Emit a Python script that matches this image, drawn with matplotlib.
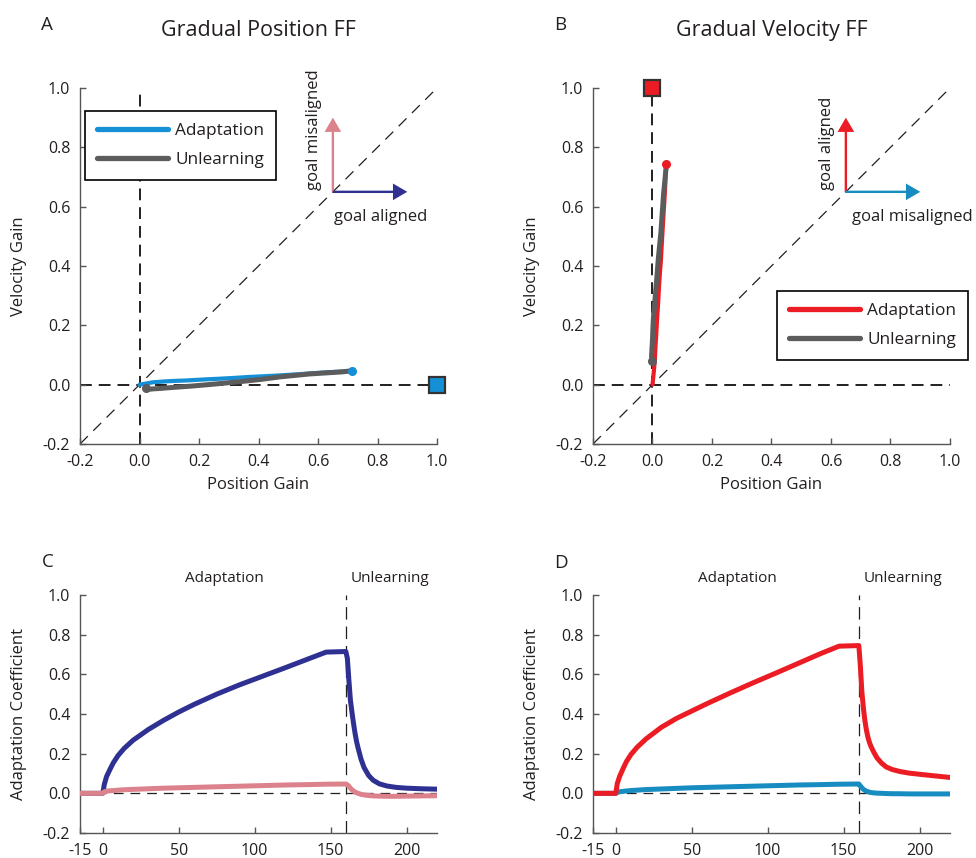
import numpy as np
import matplotlib
matplotlib.use("Agg")
import matplotlib.pyplot as plt

plt.rcParams['font.family'] = ['Open Sans', 'DejaVu Sans']
plt.rcParams['axes.unicode_minus'] = False
plt.rcParams['lines.scale_dashes'] = False

# ---- data -----------------------------------------------------------------
trial = np.array([-15, 0, 1, 2.5, 5, 7, 10, 14, 20, 30, 40, 50, 60, 75, 90,
                  105, 120, 135, 147, 160, 161, 162, 163, 164, 165, 166, 167,
                  168, 170, 172, 175, 178, 182, 187, 193, 200, 210, 220])

# gradual position force field: position / velocity adaptation coefficients
posff_position = np.array([0, 0, 0.045, 0.085, 0.125, 0.155, 0.19, 0.226, 0.268,
                           0.322, 0.368, 0.41, 0.448, 0.50, 0.547, 0.590, 0.633,
                           0.677, 0.712, 0.715, 0.68, 0.57, 0.47, 0.41, 0.355,
                           0.305, 0.263, 0.23, 0.172, 0.13, 0.09, 0.066, 0.048,
                           0.037, 0.030, 0.026, 0.023, 0.021])
posff_velocity = np.array([0, 0, 0.008, 0.011, 0.013, 0.014, 0.016, 0.018, 0.020,
                           0.023, 0.026, 0.028, 0.030, 0.033, 0.036, 0.039, 0.042,
                           0.044, 0.046, 0.047, 0.043, 0.036, 0.026, 0.018, 0.012,
                           0.007, 0.003, 0.000, -0.005, -0.008, -0.011, -0.013,
                           -0.014, -0.015, -0.015, -0.014, -0.013, -0.012])

# gradual velocity force field
velff_position = np.array([0, 0, 0.005, 0.008, 0.010, 0.012, 0.014, 0.016, 0.019,
                           0.022, 0.025, 0.028, 0.030, 0.033, 0.036, 0.039, 0.042,
                           0.044, 0.046, 0.047, 0.037, 0.028, 0.020, 0.015, 0.011,
                           0.008, 0.006, 0.004, 0.002, 0.001, 0.000, -0.001, -0.002,
                           -0.002, -0.003, -0.003, -0.003, -0.003])
velff_velocity = np.array([0, 0, 0.05, 0.085, 0.128, 0.16, 0.196, 0.232, 0.275,
                           0.333, 0.378, 0.415, 0.452, 0.505, 0.556, 0.605, 0.655,
                           0.705, 0.742, 0.745, 0.64, 0.51, 0.43, 0.365, 0.318,
                           0.282, 0.256, 0.236, 0.205, 0.178, 0.152, 0.133, 0.12,
                           0.11, 0.102, 0.096, 0.088, 0.080])

# ideal (fully adapted) gains
target_posff = [1.0, 0.0]
target_velff = [0.0, 1.0]

unlearning_start = 160

gain_ticks = [-0.2, 0.0, 0.2, 0.4, 0.6, 0.8, 1.0]
gain_labels = ['-0.2', '0.0', '0.2', '0.4', '0.6', '0.8', '1.0']
trial_ticks = [-15, 0, 50, 100, 150, 200]
trial_labels = ['-15', '0', '50', '100', '150', '200']

# ---- style ----------------------------------------------------------------
TXT = '#231f20'
SPINE = '#555555'
NAVY = '#2e3192'
PINK = '#dc828c'
SKY = '#1590d6'
TEAL = '#178cc0'
RED = '#ec1c24'
GREY = '#5c5c5c'

fig = plt.figure(figsize=(9.76, 8.58), dpi=100)

AX_W = 0.36578
LEFT_COL = 0.08197
RIGHT_COL = 0.60758
axA = fig.add_axes([LEFT_COL, 0.48252, AX_W, 0.41492])
axB = fig.add_axes([RIGHT_COL, 0.48252, AX_W, 0.41492])
axC = fig.add_axes([LEFT_COL, 0.02914, AX_W, 0.27739])
axD = fig.add_axes([RIGHT_COL, 0.02914, AX_W, 0.27739])


def style(ax):
    for s in ('top', 'right'):
        ax.spines[s].set_visible(False)
    for s in ('left', 'bottom'):
        ax.spines[s].set_color(SPINE)
        ax.spines[s].set_linewidth(1.0)
    ax.tick_params(direction='in', length=4, width=1, color=SPINE,
                   labelcolor=TXT, labelsize=11.5, pad=7)


def gain_panel(ax, pos, vel, adapt_color, target, legend_anchor,
               up_color, right_color, up_text, right_text, right_text_x):
    style(ax)
    ax.set_xlim(-0.2, 1.0)
    ax.set_ylim(-0.2, 1.0)
    ax.set_xticks(gain_ticks, gain_labels)
    ax.set_yticks(gain_ticks, gain_labels)

    ax.axhline(0, color=TXT, lw=1.4, dashes=(8.5, 5), zorder=1)
    ax.axvline(0, color=TXT, lw=1.4, dashes=(8.5, 5), zorder=1)
    ax.axline((0, 0), slope=1, color=TXT, lw=0.9, dashes=(8, 5.5), zorder=1)

    adapt = (trial >= 0) & (trial <= unlearning_start)
    unlearn = trial >= unlearning_start
    ax.plot(pos[adapt], vel[adapt], color=adapt_color, lw=3.0,
            solid_capstyle='round', solid_joinstyle='round',
            label='Adaptation', zorder=3)
    ax.plot(pos[unlearn], vel[unlearn], color=GREY, lw=3.6,
            solid_capstyle='round', solid_joinstyle='round',
            label='Unlearning', zorder=4)
    ax.plot(pos[adapt][-1], vel[adapt][-1], 'o', ms=5.5, color=adapt_color,
            zorder=5)
    ax.plot(pos[unlearn][-1], vel[unlearn][-1], 'o', ms=5.5, color=GREY,
            zorder=5)
    ax.plot(target[0], target[1], 's', ms=11.5, mfc=adapt_color, mec='#333333',
            mew=1.6, clip_on=False, zorder=6)

    # direction key
    ax.arrow(0.65, 0.65, 0, 0.25, width=0.008, head_width=0.056,
             head_length=0.048, length_includes_head=True, color=up_color,
             lw=0, zorder=2)
    ax.arrow(0.65, 0.65, 0.25, 0, width=0.008, head_width=0.056,
             head_length=0.048, length_includes_head=True, color=right_color,
             lw=0, zorder=2)
    ax.text(0.585, 0.656, up_text, rotation=90, ha='center', va='bottom',
            fontsize=12, color=TXT)
    ax.text(right_text_x, 0.591, right_text, ha='center', va='top',
            fontsize=12, color=TXT, clip_on=False)

    leg = ax.legend(loc='upper left', bbox_to_anchor=legend_anchor,
                    frameon=True, fancybox=False, edgecolor='black',
                    framealpha=1, fontsize=12.4, handlelength=4.1,
                    handletextpad=0.45, borderpad=0.7, labelspacing=0.75,
                    borderaxespad=0, labelcolor=TXT)
    leg.get_frame().set_linewidth(1.2)
    for h in leg.get_lines():
        h.set_linewidth(3.8)

    ax.set_xlabel('Position Gain', fontsize=12, color=TXT)
    ax.set_ylabel('Velocity Gain', fontsize=12, color=TXT)
    ax.xaxis.set_label_coords(0.5, -0.093)
    ax.yaxis.set_label_coords(-0.148, 0.5)


def coef_panel(ax, pos, vel, pos_color, vel_color):
    style(ax)
    ax.set_xlim(-15, 220)
    ax.set_ylim(-0.2, 1.0)
    ax.set_xticks(trial_ticks, trial_labels)
    ax.set_yticks(gain_ticks, gain_labels)

    ax.axhline(0, color=TXT, lw=0.9, dashes=(7, 5), zorder=1)
    ax.axvline(unlearning_start, color=TXT, lw=0.9, dashes=(9, 5), zorder=1)

    ax.plot(trial, pos, color=pos_color, lw=3.6, solid_joinstyle='round',
            zorder=3)
    ax.plot(trial, vel, color=vel_color, lw=3.6, solid_joinstyle='round',
            zorder=4)

    tr = ax.get_xaxis_transform()
    ax.text(80, 1.056, 'Adaptation', transform=tr, ha='center',
            va='baseline', fontsize=11, color=TXT)
    ax.text(189, 1.056, 'Unlearning', transform=tr, ha='center',
            va='baseline', fontsize=11, color=TXT)

    ax.set_ylabel('Adaptation Coefficient', fontsize=12, color=TXT)
    ax.yaxis.set_label_coords(-0.148, 0.5)


gain_panel(axA, posff_position, posff_velocity, SKY, target_posff,
           (0.014, 0.935), PINK, NAVY, 'goal misaligned', 'goal aligned', 0.812)
gain_panel(axB, velff_position, velff_velocity, RED, target_velff,
           (0.515, 0.43), RED, TEAL, 'goal aligned', 'goal misaligned', 0.872)

coef_panel(axC, posff_position, posff_velocity, NAVY, PINK)
coef_panel(axD, velff_position, velff_velocity, TEAL, RED)

# titles and panel letters
fig.text(258.5 / 976, 0.9584, 'Gradual Position FF', ha='center',
         va='baseline', fontsize=15.5, color=TXT)
fig.text(771.5 / 976, 0.9584, 'Gradual Velocity FF', ha='center',
         va='baseline', fontsize=15.5, color=TXT)
for letter, x, y in (('A', 46.7, 0.965), ('B', 559.7, 0.965),
                     ('C', 47.5, 0.339), ('D', 561.0, 0.338)):
    fig.text(x / 976, y, letter, ha='center', va='baseline', fontsize=13.5,
             color=TXT)

fig.savefig('out.png', dpi=100)
